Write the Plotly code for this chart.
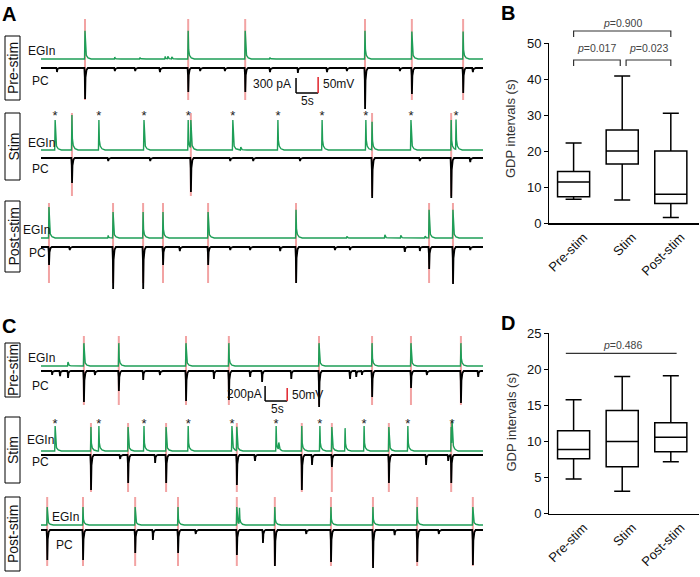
import numpy as np
import plotly.graph_objects as go

W, H = 700, 577
FONT = "Liberation Sans, Arial, sans-serif"
GREEN = "#1e9e57"
PINK = "#f2a3a3"
RED = "#e0232b"

# ================= DATA =================
# ---- Panel A : event times (s), EGIn amplitude (mV), PC amplitude (pA)
A_pre_gdp_t = [9.95, 33.3, 46.2, 73.3, 83.9, 95.5]
A_pre_gdp_egin_mv = [88, 88, 88, 88, 86, 86]
A_pre_gdp_pc_pa = [620, 480, 480, 820, 520, 500]
A_pre_small_egin_t = [16.7, 22.4, 28.1, 28.7, 29.6, 51.8]
A_pre_small_egin_mv = [6, 5, 8, 8, 6, 5]
A_pre_small_pc_t = [3.6, 16.7, 21.3, 26.9, 36.0, 41.6, 51.8, 58.1, 64.7, 69.2, 81.2, 97.7]
A_pre_small_pc_pa = [80, 60, 60, 80, 60, 60, 80, 100, 80, 60, 60, 80]

A_stim_t = [3.2, 13.1, 23.3, 33.3, 43.4, 53.6, 63.6, 73.5, 83.7, 93.9]
A_stim_egin_mv = [94, 94, 94, 94, 94, 94, 94, 94, 94, 94]
A_stim_gdp_t = [7.0, 33.9, 74.9, 92.8]
A_stim_gdp_egin_mv = [109, 88, 88, 94]
A_stim_gdp_pc_pa = [500, 680, 800, 800]
A_stim_small_egin_t = [45.2]
A_stim_small_egin_mv = [9]
A_stim_small_pc_t = [15.2, 24.7, 42.8, 48.0, 58.6, 85.7, 97.1]
A_stim_small_pc_pa = [60, 60, 60, 60, 60, 60, 80]

A_post_gdp_t = [1.8, 16.3, 23.1, 27.6, 37.8, 57.7, 87.8, 93.2]
A_post_gdp_egin_mv = [97, 81, 81, 81, 81, 88, 88, 88]
A_post_gdp_pc_pa = [360, 840, 840, 360, 360, 720, 440, 740]
A_post_small_egin_t = [15.2, 69.2, 77.8, 81.4, 86.9]
A_post_small_egin_mv = [8, 5, 10, 8, 6]
A_post_small_pc_t = [6.5, 31.4, 42.8, 47.3, 54.1, 66.5, 69.9, 82.3, 85.7, 97.1]
A_post_small_pc_pa = [60, 80, 60, 60, 80, 60, 60, 100, 80, 60]

# ---- Panel C
C_pre_gdp_t = [9.7, 17.6, 32.8, 42.5, 62.9, 74.9, 83.7, 95.0]
C_pre_gdp_egin_mv = [88, 88, 88, 88, 88, 88, 88, 88]
C_pre_gdp_pc_pa = [413, 267, 400, 387, 480, 347, 227, 427]
C_pre_small_egin_t = [6.1]
C_pre_small_egin_mv = [15]
C_pre_small_pc_t = [2.5, 4.3, 6.1, 12.2, 23.1, 26.9, 39.1, 47.3, 50.0, 56.6, 69.9, 71.3, 72.6, 87.3, 98.9]
C_pre_small_pc_pa = [53, 67, 93, 53, 120, 53, 107, 80, 147, 107, 107, 80, 53, 53, 80]

C_stim_t = [3.2, 13.1, 23.3, 33.3, 43.2, 53.2, 63.1, 73.1, 83.0, 93.0]
C_stim_egin_mv = [96, 96, 96, 96, 96, 96, 96, 96, 96, 96]
C_stim_gdp_t = [11.3, 19.7, 28.3, 44.3, 59.0, 65.8, 78.7, 92.8]
C_stim_gdp_egin_mv = [92, 92, 92, 92, 96, 92, 92, 92]
C_stim_gdp_pc_pa = [467, 373, 373, 400, 467, 160, 373, 373]
C_stim_small_egin_t = [53.8, 68.8]
C_stim_small_egin_mv = [27, 88]
C_stim_small_pc_t = [17.9, 25.8, 48.4, 61.3, 87.1, 92.1]
C_stim_small_pc_pa = [53, 107, 80, 133, 133, 80]

C_post_gdp_t = [1.4, 9.5, 21.3, 31.0, 44.3, 52.9, 65.6, 75.1, 85.1, 97.7]
C_post_gdp_egin_mv = [69, 69, 69, 69, 69, 69, 69, 69, 69, 69]
C_post_gdp_pc_pa = [400, 400, 307, 307, 333, 480, 427, 507, 427, 467]
C_post_small_egin_t = [44.9]
C_post_small_egin_mv = [62]
C_post_small_pc_t = [25.3, 50.2, 35.0, 60.0, 80.0, 90.0]
C_post_small_pc_pa = [133, 173, 53, 53, 67, 53]

# ---- Panels B and D : GDP interval box statistics (s)
groups = ["Pre-stim", "Stim", "Post-stim"]
B_min = [6.7, 6.5, 1.6]
B_q1 = [7.4, 16.5, 5.5]
B_median = [11.5, 20.1, 8.1]
B_q3 = [14.4, 25.9, 20.1]
B_max = [22.3, 40.9, 30.6]
B_pvalues = ["0.017", "0.023", "0.900"]

D_min = [4.8, 3.1, 7.2]
D_q1 = [7.6, 6.5, 8.6]
D_median = [8.9, 10.0, 10.6]
D_q3 = [11.5, 14.3, 12.6]
D_max = [15.8, 19.0, 19.1]
D_pvalue = "0.486"

# ================= helpers =================
def fx(px):
    return px / W


def fy(py):
    return 1 - py / H


EG_KT = [-0.1, 0.0, 0.1, 0.3, 0.7, 1.4]
EG_KA = [0, 1, 0.33, 0.13, 0.04, 0]
PC_KT = [-0.14, -0.04, 0.02, 0.12, 0.35, 0.65]
PC_KA = [0, 0.3, 1, 0.3, 0.06, 0]


def waveform(times, amps, kt, ka, t0=0.0, t1=100.0):
    bps = {t0, t1}
    for t in times:
        for d in kt:
            if t0 <= t + d <= t1:
                bps.add(t + d)
    xs = np.array(sorted(bps))
    ys = np.zeros_like(xs)
    for t, a in zip(times, amps):
        ys += a * np.interp(xs, np.array(kt) + t, ka, left=0, right=0)
    return xs, ys


rows = [
    dict(gdp_t=A_pre_gdp_t, gdp_e=A_pre_gdp_egin_mv, gdp_p=A_pre_gdp_pc_pa,
         st_t=[], st_e=[], se_t=A_pre_small_egin_t, se_a=A_pre_small_egin_mv,
         sp_t=A_pre_small_pc_t, sp_a=A_pre_small_pc_pa,
         egin_px=59, pc_px=68, mv_px=3.125, pa_px=20, red=(19, 100), star_px=None,
         label="Pre-stim", box=(36, 100), egin_lab=(41, 51), pc_lab=(40, 81)),
    dict(gdp_t=A_stim_gdp_t, gdp_e=A_stim_gdp_egin_mv, gdp_p=A_stim_gdp_pc_pa,
         st_t=A_stim_t, st_e=A_stim_egin_mv, se_t=A_stim_small_egin_t, se_a=A_stim_small_egin_mv,
         sp_t=A_stim_small_pc_t, sp_a=A_stim_small_pc_pa,
         egin_px=150, pc_px=158, mv_px=3.125, pa_px=20, red=(113, 196), star_px=117,
         label="Stim", box=(113, 180), egin_lab=(41, 143), pc_lab=(40, 169)),
    dict(gdp_t=A_post_gdp_t, gdp_e=A_post_gdp_egin_mv, gdp_p=A_post_gdp_pc_pa,
         st_t=[], st_e=[], se_t=A_post_small_egin_t, se_a=A_post_small_egin_mv,
         sp_t=A_post_small_pc_t, sp_a=A_post_small_pc_pa,
         egin_px=238, pc_px=247, mv_px=3.125, pa_px=20, red=(203, 283), star_px=None,
         label="Post-stim", box=(201, 272), egin_lab=(36, 230), pc_lab=(37, 253)),
    dict(gdp_t=C_pre_gdp_t, gdp_e=C_pre_gdp_egin_mv, gdp_p=C_pre_gdp_pc_pa,
         st_t=[], st_e=[], se_t=C_pre_small_egin_t, se_a=C_pre_small_egin_mv,
         sp_t=C_pre_small_pc_t, sp_a=C_pre_small_pc_pa,
         egin_px=366, pc_px=371, mv_px=3.85, pa_px=13.33, red=(336, 405), star_px=None,
         label="Pre-stim", box=(343, 397), egin_lab=(41, 358), pc_lab=(40, 386)),
    dict(gdp_t=C_stim_gdp_t, gdp_e=C_stim_gdp_egin_mv, gdp_p=C_stim_gdp_pc_pa,
         st_t=C_stim_t, st_e=C_stim_egin_mv, se_t=C_stim_small_egin_t, se_a=C_stim_small_egin_mv,
         sp_t=C_stim_small_pc_t, sp_a=C_stim_small_pc_pa,
         egin_px=451, pc_px=455, mv_px=3.85, pa_px=13.33, red=(423, 492), star_px=425,
         label="Stim", box=(417, 483), egin_lab=(40, 440), pc_lab=(40, 462)),
    dict(gdp_t=C_post_gdp_t, gdp_e=C_post_gdp_egin_mv, gdp_p=C_post_gdp_pc_pa,
         st_t=[], st_e=[], se_t=C_post_small_egin_t, se_a=C_post_small_egin_mv,
         sp_t=C_post_small_pc_t, sp_a=C_post_small_pc_pa,
         egin_px=525, pc_px=530, mv_px=3.85, pa_px=13.33, red=(497, 566), star_px=None,
         label="Post-stim", box=(497, 571), egin_lab=(65, 517), pc_lab=(64, 545)),
]

fig = go.Figure()
layout = dict(
    width=W, height=H, margin=dict(l=0, r=0, t=0, b=0), autosize=False,
    template="none", paper_bgcolor="white", plot_bgcolor="rgba(0,0,0,0)",
    showlegend=False, font=dict(family=FONT, color="#111"),
    xaxis=dict(domain=[fx(41), fx(483)], range=[0, 100], visible=False,
               fixedrange=True, anchor="y"),
)
shapes = []
annotations = []


def note(text, px, py, size=12, color="#111", angle=0, xanchor="center", xref="paper", x=None):
    annotations.append(dict(text=text, x=fx(px) if x is None else x, y=fy(py), xref=xref,
                            yref="paper", showarrow=False, textangle=angle,
                            xanchor=xanchor, yanchor="middle",
                            font=dict(size=size, family=FONT, color=color)))


trace_axes = ["y"] + [f"y{i}" for i in range(3, 14)]

for i, r in enumerate(rows):
    ye, yp = trace_axes[2 * i], trace_axes[2 * i + 1]
    for yid, base, u in ((ye, r["egin_px"], r["mv_px"]), (yp, r["pc_px"], r["pa_px"])):
        name = "yaxis" if yid == "y" else "yaxis" + yid[1:]
        ax = dict(domain=[0, 1], range=[(base - H) * u, base * u], visible=False,
                  fixedrange=True, anchor="x")
        if yid != "y":
            ax["overlaying"] = "y"
        layout[name] = ax
    r["ye"], r["yp"] = ye, yp

    # red GDP markers
    for t in r["gdp_t"]:
        shapes.append(dict(type="line", xref="x", yref="paper", x0=t, x1=t,
                           y0=fy(r["red"][1]), y1=fy(r["red"][0]),
                           line=dict(color=PINK, width=2), layer="below"))

    # EGIn trace
    et = list(r["gdp_t"]) + list(r["st_t"]) + list(r["se_t"])
    ea = list(r["gdp_e"]) + list(r["st_e"]) + list(r["se_a"])
    xs, ys = waveform(et, ea, EG_KT, EG_KA)
    fig.add_trace(go.Scatter(x=xs, y=ys, mode="lines", xaxis="x", yaxis=ye,
                             line=dict(color=GREEN, width=1.4), hoverinfo="skip"))
    # PC trace
    pt = list(r["gdp_t"]) + list(r["sp_t"])
    pa = list(r["gdp_p"]) + list(r["sp_a"])
    xs, ys = waveform(pt, pa, PC_KT, PC_KA)
    fig.add_trace(go.Scatter(x=xs, y=-ys, mode="lines", xaxis="x", yaxis=yp,
                             line=dict(color="black", width=1.8), hoverinfo="skip"))
    # stimulus asterisks
    if r["st_t"]:
        sy = (r["egin_px"] - r["star_px"]) * r["mv_px"]
        fig.add_trace(go.Scatter(x=r["st_t"], y=[sy] * len(r["st_t"]), mode="text",
                                 text=["*"] * len(r["st_t"]), xaxis="x", yaxis=ye,
                                 textfont=dict(size=13, color="#222", family=FONT),
                                 hoverinfo="skip"))

    # row label box
    b0, b1 = r["box"]
    shapes.append(dict(type="rect", xref="paper", yref="paper", x0=fx(5), x1=fx(20),
                       y0=fy(b1), y1=fy(b0), line=dict(color="black", width=1)))
    note(r["label"], 13, (b0 + b1) / 2, size=14, angle=-90)
    note("EGIn", r["egin_lab"][0], r["egin_lab"][1], size=12)
    note("PC", r["pc_lab"][0], r["pc_lab"][1], size=12)


# ---- scale bars (lengths through the axes)
def scale_bar(r, t0, pc_bottom, pa_len, mv_len, texts):
    eg_bottom = (r["egin_px"] - (r["pc_px"] - pc_bottom / r["pa_px"])) * r["mv_px"]
    shapes.append(dict(type="line", xref="x", yref=r["yp"], x0=t0, x1=t0 + 5,
                       y0=pc_bottom, y1=pc_bottom, line=dict(color="black", width=1.5)))
    shapes.append(dict(type="line", xref="x", yref=r["yp"], x0=t0, x1=t0,
                       y0=pc_bottom, y1=pc_bottom + pa_len, line=dict(color="black", width=1.5)))
    shapes.append(dict(type="line", xref="x", yref=r["ye"], x0=t0 + 5, x1=t0 + 5,
                       y0=eg_bottom, y1=eg_bottom + mv_len, line=dict(color=RED, width=1.5)))
    for txt, px, py, xa in texts:
        note(txt, px, py, size=12, xanchor=xa)


scale_bar(rows[0], 57.7, -500, 300, 50,
          [("300 pA", 293, 84, "right"), ("50mV", 321, 84, "left"), ("5s", 307, 101, "center")])
scale_bar(rows[3], 50.7, -400, 200, 50,
          [("200pA", 264, 394, "right"), ("50mV", 290, 395, "left"), ("5s", 277, 409, "center")])


# ---- box plots
def box_panel(xid, yid, q1, med, q3, lo, hi, ydom_px, yrange, tickvals):
    fig.add_trace(go.Box(x=groups, q1=q1, median=med, q3=q3, lowerfence=lo, upperfence=hi,
                         orientation="v", xaxis=xid, yaxis=yid, fillcolor="white",
                         line=dict(color="black", width=1.5), width=0.66, whiskerwidth=0.5,
                         boxpoints=False, hoverinfo="skip"))
    xname = "xaxis" + xid[1:]
    yname = "yaxis" + yid[1:]
    layout[xname] = dict(domain=[fx(549.3), fx(699)], anchor=yid, type="category",
                         range=[-0.5, 2.58], showline=True, linecolor="black", linewidth=1.3,
                         ticks="", tickangle=-45, ticklabelshift=10, showgrid=False,
                         zeroline=False,
                         tickfont=dict(size=13, family=FONT, color="#111"),
                         fixedrange=True, automargin=False)
    layout[yname] = dict(domain=[fy(ydom_px[0]), fy(ydom_px[1])], anchor=xid, range=yrange,
                         tickvals=tickvals, ticks="outside", ticklen=4, tickwidth=1.3,
                         tickcolor="black", showline=True, linecolor="black", linewidth=1.3,
                         showgrid=False, zeroline=False,
                         tickfont=dict(size=13, family=FONT, color="#111"),
                         fixedrange=True, automargin=False)


box_panel("x2", "y2", B_q1, B_median, B_q3, B_min, B_max, (223.3, 43.3), [0, 50],
          [0, 10, 20, 30, 40, 50])
box_panel("x3", "y14", D_q1, D_median, D_q3, D_min, D_max, (513.7, 333.3), [0, 25],
          [0, 5, 10, 15, 20, 25])

for yc in (128.5, 422):
    note("GDP intervals (s)", 510.5, yc, size=13, color="#333", angle=-90)


# significance brackets (B)
def bracket(x0, x1, ypx, leg):
    shapes.append(dict(type="path", xref="x2", yref="paper",
                       path=f"M {x0},{fy(ypx + leg)} L {x0},{fy(ypx)} L {x1},{fy(ypx)} L {x1},{fy(ypx + leg)}",
                       line=dict(color="#333", width=1.2)))


bracket(0, 0.96, 60, 6)
bracket(1.08, 2, 60, 6)
bracket(0, 2, 31, 6)
for txt, xc, ypx in ((B_pvalues[0], 0.48, 48), (B_pvalues[1], 1.54, 48), (B_pvalues[2], 1.0, 22.5)):
    note(f"<i>p</i>={txt}", 0, ypx, size=10.5, color="#444", xref="x2", x=xc)
# D line
shapes.append(dict(type="line", xref="x3", yref="paper", x0=-0.16, x1=2.12,
                   y0=fy(353.3), y1=fy(353.3), line=dict(color="#333", width=1.2)))
note(f"<i>p</i>={D_pvalue}", 0, 345, size=10.5, color="#444", xref="x3", x=1.0)

# panel letters
for txt, px, py in (("A", 9, 13.5), ("B", 508, 12.5), ("C", 9, 325.5), ("D", 508, 323)):
    note(f"<b>{txt}</b>", px, py, size=20, color="black")

layout["shapes"] = shapes
layout["annotations"] = annotations
fig.update_layout(**layout)
fig.write_html("out.html", config={"displayModeBar": False, "staticPlot": True},
               post_script="document.body.style.margin='0px';")
